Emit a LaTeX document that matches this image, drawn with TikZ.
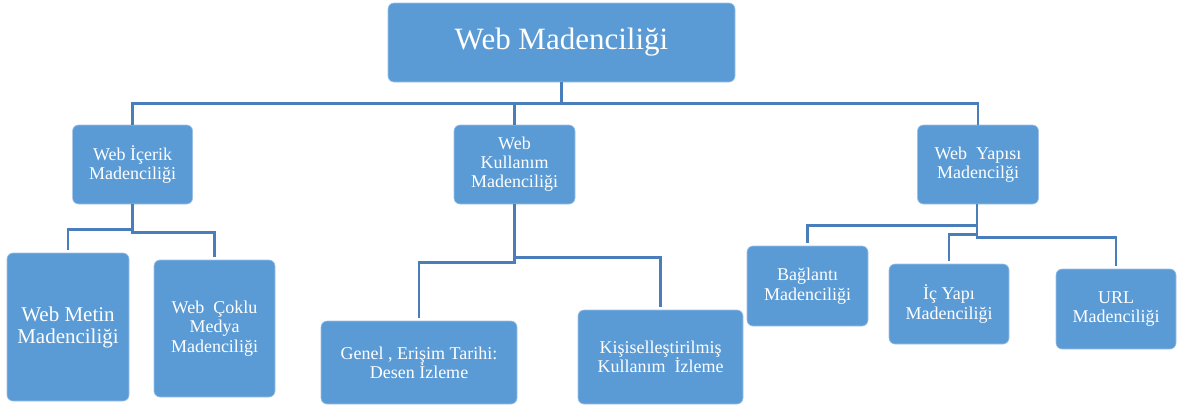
\documentclass[tikz,border=0pt]{standalone}
\usepackage{fontspec}
\setmainfont{Liberation Serif}
\definecolor{boxfill}{HTML}{5B9BD5}
\definecolor{boxedge}{HTML}{9EC0E6}
\definecolor{connc}{HTML}{4A7EBB}
\begin{document}
\begin{tikzpicture}[x=1pt,y=-1pt,
  box/.style={rectangle, rounded corners=6pt, fill=boxfill, draw=boxedge, line width=0.6pt,
    text=white, align=center, inner sep=0pt, font=\fontsize{18}{19}\selectfont},
  conn/.style={draw=connc, line width=2.6pt, shorten >=3pt}]
\useasboundingbox (0,0) rectangle (1177,407);
% top
\node[box, minimum width=347, minimum height=79, font=\fontsize{31}{33}\selectfont] (top) at (561.5,42.5) {Web Madenciliği};
% level 1
\node[box, minimum width=120, minimum height=79] (icerik) at (132.6,164.5) {Web İçerik\\Madenciliği};
\node[box, minimum width=121, minimum height=79] (kullanim) at (514.5,164.5) {Web\\Kullanım\\Madenciliği};
\node[box, minimum width=121, minimum height=79] (yapisi) at (978,164.5) {Web\ \ Yapısı\\Madencilği};
% level 2
\node[box, minimum width=122, minimum height=148, font=\fontsize{21}{22}\selectfont] (metin) at (68,327) {Web Metin\\Madenciliği};
\node[box, minimum width=121, minimum height=137, font=\fontsize{18}{19.5}\selectfont] (coklu) at (214.5,328.5) {Web\ \ Çoklu\\Medya\\Madenciliği};
\node[box, minimum width=196, minimum height=83] (genel) at (419,362.5) {Genel , Erişim Tarihi:\\Desen İzleme};
\node[box, minimum width=165, minimum height=94] (kisisel) at (660.5,357) {Kişiselleştirilmiş\\Kullanım\ \ İzleme};
\node[box, minimum width=121, minimum height=80, font=\fontsize{18}{19.5}\selectfont] (baglanti) at (807.5,286) {Bağlantı\\Madenciliği};
\node[box, minimum width=120, minimum height=80, font=\fontsize{18}{19.5}\selectfont] (icyapi) at (949,304) {İç Yapı\\Madenciliği};
\node[box, minimum width=120, minimum height=80, font=\fontsize{18}{19.5}\selectfont] (url) at (1116,309) {URL\\Madenciliği};
% connectors
\draw[conn, shorten >=0pt] (top.south) -- ++(0,21) -| (icerik.north);
\draw[conn, shorten >=0pt] (top.south) -- ++(0,21) -| (kullanim.north);
\draw[conn, shorten >=0pt] (top.south) -- ++(0,21) -| (yapisi.north);
\draw[conn] (icerik.south) -- ++(0,25) -| (metin.north);
\draw[conn] (icerik.south) -- ++(0,28) -| (coklu.north);
\draw[conn] (kullanim.south) -- ++(0,58) -| (genel.north);
\draw[conn] (kullanim.south) -- ++(0,53) -| (kisisel.north);
\draw[conn] ([xshift=-1pt]yapisi.south) -- ++(0,21) -| (baglanti.north);
\draw[conn] ([xshift=-1pt]yapisi.south) -- ++(0,30) -| (icyapi.north);
\draw[conn] ([xshift=-1pt]yapisi.south) -- ++(0,33) -| (url.north);
\end{tikzpicture}
\end{document}
